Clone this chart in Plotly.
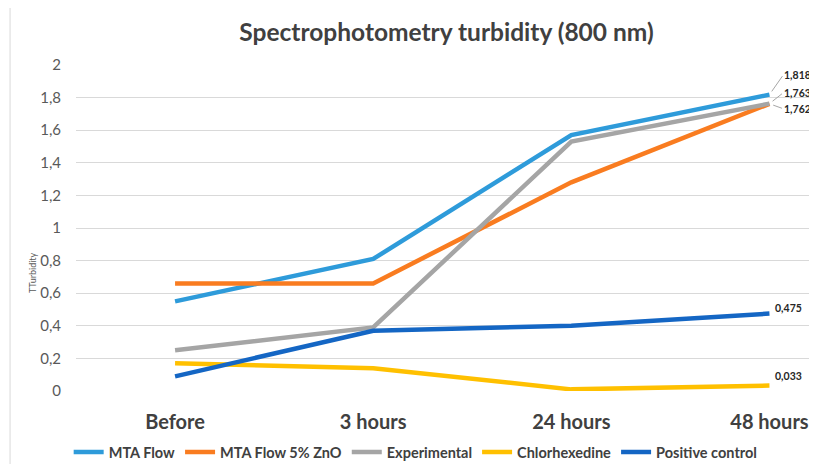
import plotly.graph_objects as go

categories = ["Before", "3 hours", "24 hours", "48 hours"]
series_names = ["MTA Flow", "MTA Flow 5% ZnO", "Experimental", "Chlorhexedine", "Positive control"]
mta_flow = [0.55, 0.81, 1.57, 1.818]
mta_zno = [0.66, 0.66, 1.28, 1.762]
experimental = [0.25, 0.39, 1.53, 1.763]
chlorhexedine = [0.17, 0.14, 0.01, 0.033]
positive_control = [0.09, 0.37, 0.40, 0.475]
y_ticks = [0, 0.2, 0.4, 0.6, 0.8, 1.0, 1.2, 1.4, 1.6, 1.8, 2.0]
y_tick_labels = ["0", "0,2", "0,4", "0,6", "0,8", "1", "1,2", "1,4", "1,6", "1,8", "2"]

colors = ["#2E9BDA", "#F97C20", "#A5A5A5", "#FFC000", "#1466C4"]
all_series = [mta_flow, mta_zno, experimental, chlorhexedine, positive_control]

FONT = "Lato"
x_idx = list(range(len(categories)))

fig = go.Figure()
for name, vals, col in zip(series_names, all_series, colors):
    fig.add_trace(go.Scatter(
        x=x_idx, y=vals, name=name, mode="lines",
        line=dict(color=col, width=4.5),
    ))

def fmt(v):
    return f"{v:.3f}".replace(".", ",")

last = len(categories) - 1
label_font = dict(family=FONT, size=10.5, color="#262626")
# labels with leader lines for the top three
for vals, ys in [(mta_flow, 20), (experimental, 11), (mta_zno, -5)]:
    fig.add_annotation(x=last, y=vals[last], text="<b>" + fmt(vals[last]) + "</b>", showarrow=False,
                       xanchor="left", yanchor="middle", xshift=13, yshift=ys, font=label_font)
    fig.add_annotation(x=last, y=vals[last], text="", showarrow=True, arrowhead=0,
                       arrowwidth=1, arrowcolor="#A6A6A6", ax=14, ay=-ys, standoff=4)
for vals, ys in [(positive_control, 6), (chlorhexedine, 10)]:
    fig.add_annotation(x=last, y=vals[last], text="<b>" + fmt(vals[last]) + "</b>", showarrow=False,
                       xanchor="left", yanchor="middle", xshift=4, yshift=ys, font=label_font)

fig.add_annotation(xref="paper", yref="paper", x=-0.069, y=0.294, text="TTurbidity",
                   textangle=-90, showarrow=False,
                   font=dict(family=FONT, size=9, color="#595959"))

fig.add_shape(type="line", xref="paper", yref="paper", x0=-0.089, x1=-0.089, y0=-0.3, y1=1.3,
              line=dict(color="#D9D9D9", width=1))

# page body has an 8px default margin, so the figure is sized/offset to fit the window
fig.update_layout(
    width=809, height=456,
    margin=dict(l=68, r=0, t=57, b=73, autoexpand=False),
    paper_bgcolor="white", plot_bgcolor="white",
    title=dict(text="<b>Spectrophotometry turbidity (800 nm)</b>", xref="paper", x=0.5,
               xanchor="center", yref="container", y=0.947, yanchor="middle",
               font=dict(family=FONT, size=24.5, color="#404040")),
    showlegend=True,
    legend=dict(orientation="h", xref="container", x=0.075, xanchor="left",
                yref="container", y=0.026, yanchor="middle",
                font=dict(family=FONT, size=14.5, color="#404040", weight="bold"),
                itemwidth=30, tracegroupgap=0, bgcolor="rgba(0,0,0,0)"),
    xaxis=dict(range=[-0.5, 3.24], tickvals=x_idx, ticktext=[f"<b>{c}</b>" for c in categories],
               showgrid=False, zeroline=False, showline=False, ticks="", ticklabelstandoff=17,
               tickfont=dict(family=FONT, size=20, color="#404040")),
    yaxis=dict(range=[0, 2], tickvals=y_ticks, ticktext=y_tick_labels,
               showgrid=True, gridcolor="#D9D9D9", gridwidth=1, zeroline=False,
               showline=False, ticks="", ticklabelstandoff=14,
               tickfont=dict(family=FONT, size=15, color="#595959")),
)

fig.write_html("out.html")
